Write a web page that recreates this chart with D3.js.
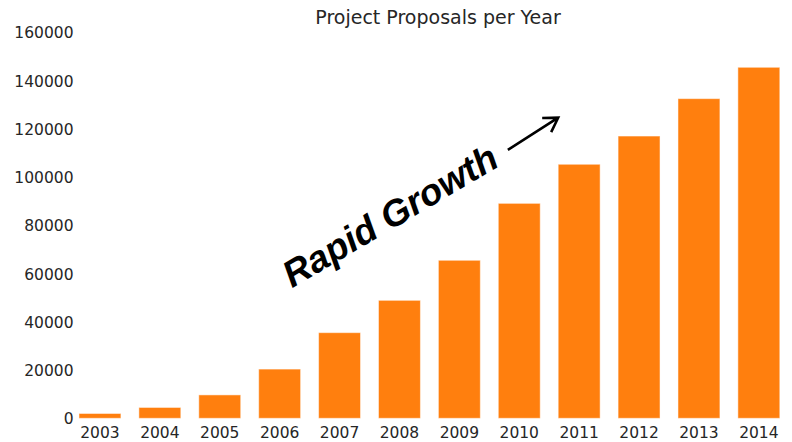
<!DOCTYPE html>
<html>
<head>
<meta charset="utf-8">
<script src="https://cdn.jsdelivr.net/npm/d3@7"></script>
<style>
  html, body { margin: 0; padding: 0; background: #fff; }
  svg { display: block; }
</style>
</head>
<body>
<svg id="chart" width="792" height="442"></svg>
<script>
const years = ["2003","2004","2005","2006","2007","2008","2009","2010","2011","2012","2013","2014"];
const proposals = [2000, 4500, 9700, 20400, 35500, 48900, 65500, 89100, 105300, 117000, 132500, 145500];
const yTicks = [0, 20000, 40000, 60000, 80000, 100000, 120000, 140000, 160000];
const title = "Project Proposals per Year";
const annotationText = "Rapid Growth";
// annotation anchor points in data units (bar index, value)
const arrowTail = [6.81, 111300];
const arrowTip = [7.65, 124600];
const textAnchor = [4.95, 79400];

const svg = d3.select("#chart");
const font = "'DejaVu Sans', sans-serif";

const x = d3.scaleLinear().domain([0, 11]).range([99.95, 758.85]);
const barW = 0.7 * (x(1) - x(0));
const y = d3.scaleLinear().domain([0, 160000]).range([418.3, 32.3]);

// bars
svg.append("g").selectAll("rect")
  .data(proposals)
  .join("rect")
  .attr("x", (d, i) => x(i) - barW / 2)
  .attr("y", d => y(d))
  .attr("width", barW)
  .attr("height", d => y(0) - y(d))
  .attr("fill", "#ff7f0e")
  .attr("stroke", "#ffffff")
  .attr("stroke-opacity", 0.5)
  .attr("stroke-width", 1);

// y axis (no line, no ticks)
const yAxis = d3.axisLeft(y).tickValues(yTicks).tickSize(0).tickPadding(0).tickFormat(d3.format("d"));
const gy = svg.append("g").attr("transform", "translate(73.5,0)").call(yAxis);
gy.select(".domain").remove();
gy.selectAll("text")
  .attr("font-family", font)
  .attr("font-size", "15.5px")
  .attr("fill", "#262626")
  .attr("dy", "0.36em");

// x axis
const xb = d3.scaleBand().domain(years).range([x(0) - (x(1) - x(0)) / 2, x(11) + (x(1) - x(0)) / 2]);
const xAxis = d3.axisBottom(xb).tickSize(0).tickPadding(0);
const gx = svg.append("g").attr("transform", "translate(0,427)").call(xAxis);
gx.select(".domain").remove();
gx.selectAll("text")
  .attr("font-family", font)
  .attr("font-size", "15.5px")
  .attr("fill", "#262626")
  .attr("dy", "0.72em");

// title
svg.append("text")
  .attr("x", 438)
  .attr("y", 24)
  .attr("text-anchor", "middle")
  .attr("font-family", font)
  .attr("font-size", "19px")
  .attr("fill", "#262626")
  .text(title);

// annotation text
const tx = x(textAnchor[0]), ty = y(textAnchor[1]);
svg.append("text")
  .attr("transform", `translate(${tx},${ty}) rotate(-30.5)`)
  .attr("text-anchor", "middle")
  .attr("font-family", "'Liberation Sans', Arial, sans-serif")
  .attr("font-weight", "bold")
  .attr("font-style", "italic")
  .attr("font-size", "37px")
  .attr("fill", "#000")
  .text(annotationText);

// arrow
const ax0 = x(arrowTail[0]), ay0 = y(arrowTail[1]);
const ax1 = x(arrowTip[0]), ay1 = y(arrowTip[1]);
const ang = Math.atan2(ay1 - ay0, ax1 - ax0);
const headLen = 16, headAng = 0.55;
const h1 = [ax1 - headLen * Math.cos(ang - headAng), ay1 - headLen * Math.sin(ang - headAng)];
const h2 = [ax1 - headLen * Math.cos(ang + headAng), ay1 - headLen * Math.sin(ang + headAng)];
svg.append("path")
  .attr("d", `M${ax0},${ay0}L${ax1},${ay1}M${h1[0]},${h1[1]}L${ax1},${ay1}L${h2[0]},${h2[1]}`)
  .attr("fill", "none")
  .attr("stroke", "#000")
  .attr("stroke-width", 2.6)
  .attr("stroke-linejoin", "miter");
</script>
</body>
</html>
